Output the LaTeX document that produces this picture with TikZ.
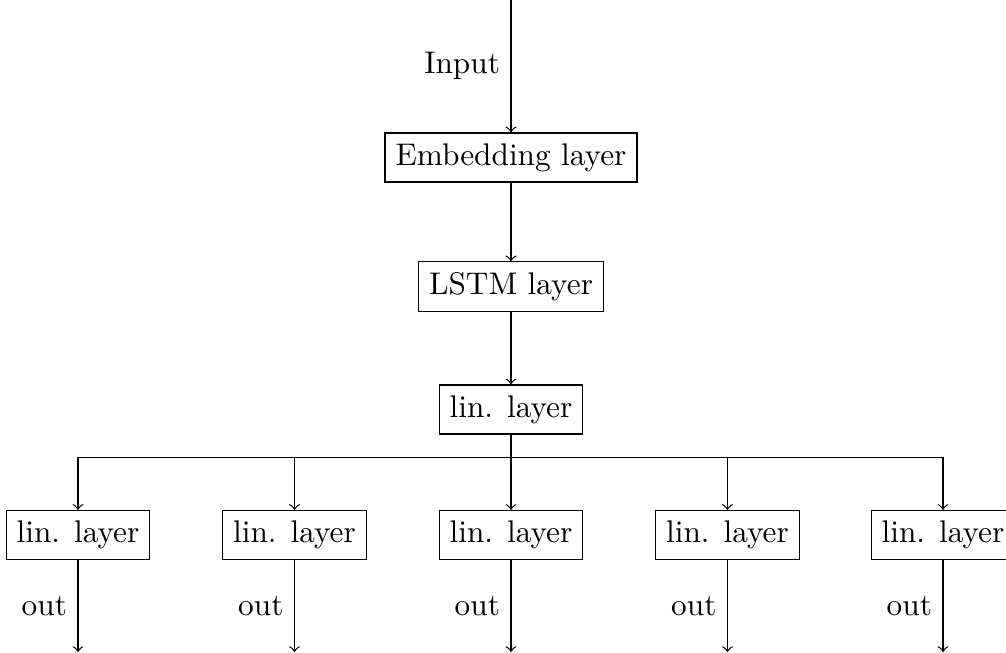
\documentclass[tikz,border=0pt]{standalone}
\begin{document}
\begin{tikzpicture}[x=0.3195pt,y=-0.3195pt,
  layerbox/.style={draw,inner sep=0.3333em},
  conn/.style={->}]
\useasboundingbox (0,0) rectangle (1006,652);
\coordinate (top) at (511,0);
\node[layerbox] (emb) at (511,157.5) {Embedding layer};
\node[layerbox] (lstm) at (511,286.5) {LSTM layer};
\node[layerbox] (lin) at (511,409.5) {lin. layer};
\coordinate (bus) at (511,457.7);
\draw[conn] (top) -- node[left] {Input} (emb);
\draw[conn] (emb) -- (lstm);
\draw[conn] (lstm) -- (lin);
\draw (lin) -- (bus);
\foreach \i/\x in {1/78,2/294.5,3/511,4/727.5,5/943}{
  \node[layerbox] (b\i) at (\x,535) {lin. layer};
  \coordinate (e\i) at (\x,652);
  \draw[conn] (bus) -| (b\i.north);
  \draw[conn] (b\i) -- node[left] {out} (e\i);
}
\end{tikzpicture}
\end{document}
